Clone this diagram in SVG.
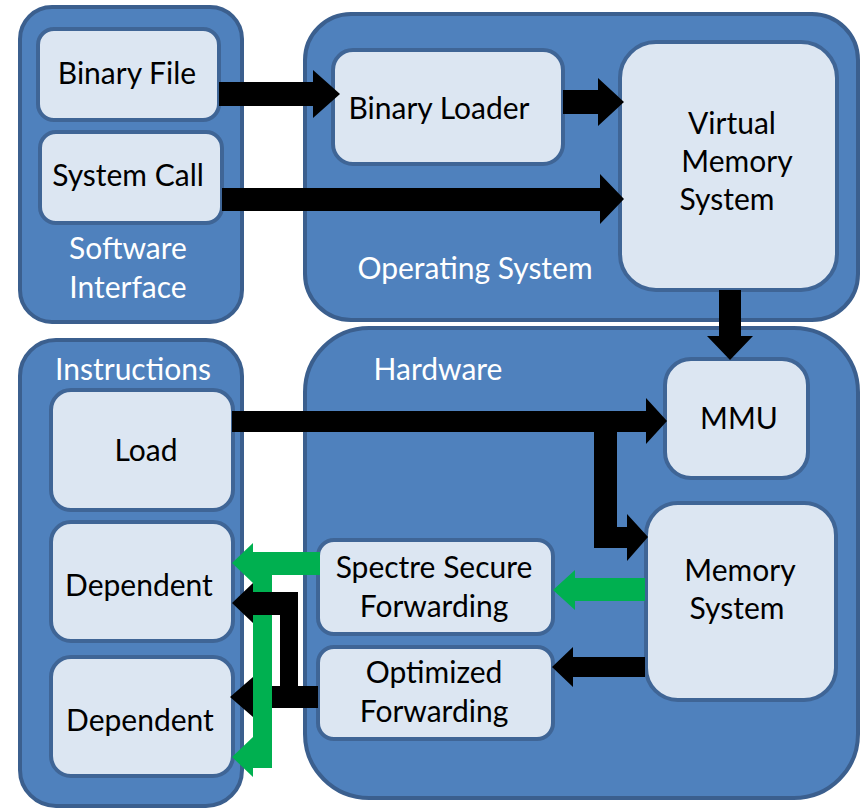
<svg xmlns="http://www.w3.org/2000/svg" width="864" height="809" viewBox="0 0 864 809">
<style>
.cont{fill:#4F81BD;stroke:#3B5F8E;stroke-width:4}
.box{fill:#DCE6F2;stroke:#3F6596;stroke-width:4}
text{font-family:Lato,"Liberation Sans",sans-serif;font-size:30px;text-anchor:middle}
.dk{fill:#000}
.wt{fill:#FFFFFF}
.blk{fill:#000}
.grn{fill:#00B050}
</style>
<rect width="864" height="809" fill="#FFFFFF"/>
<g id="software-interface">
<rect class="cont" x="20" y="7" width="222" height="315" rx="32"/>
<text class="wt" x="128" y="259">Software</text>
<text class="wt" x="128" y="298">Interface</text>
</g>
<g id="binary-file">
<rect class="box" x="38" y="29" width="181" height="91" rx="16"/>
<text class="dk" x="127" y="84">Binary File</text>
</g>
<g id="system-call">
<rect class="box" x="40" y="132" width="182" height="91" rx="16"/>
<text class="dk" x="128" y="186">System Call</text>
</g>
<g id="operating-system">
<rect class="cont" x="305" y="14" width="553" height="306" rx="46"/>
<text class="wt" x="475" y="279">Operating System</text>
</g>
<g id="binary-loader">
<rect class="box" x="333" y="50" width="230" height="114" rx="20"/>
<text class="dk" x="439" y="119">Binary Loader</text>
</g>
<g id="virtual-memory-system">
<rect class="box" x="620" y="42" width="217" height="248" rx="36"/>
<text class="dk" x="732" y="134">Virtual</text>
<text class="dk" x="737" y="172">Memory</text>
<text class="dk" x="727" y="210">System</text>
</g>
<g id="instructions">
<rect class="cont" x="20" y="340" width="222" height="466" rx="36"/>
<text class="wt" x="133" y="380">Instructions</text>
</g>
<g id="load">
<rect class="box" x="51" y="390" width="182" height="120" rx="20"/>
<text class="dk" x="146" y="461">Load</text>
</g>
<g id="dependent-1">
<rect class="box" x="51" y="522" width="182" height="119" rx="20"/>
<text class="dk" x="139" y="596">Dependent</text>
</g>
<g id="dependent-2">
<rect class="box" x="51" y="657" width="182" height="119" rx="20"/>
<text class="dk" x="140" y="731">Dependent</text>
</g>
<g id="hardware">
<rect class="cont" x="305" y="328" width="553" height="470" rx="64"/>
<text class="wt" x="438" y="380">Hardware</text>
</g>
<g id="mmu">
<rect class="box" x="665" y="359" width="143" height="119" rx="26"/>
<text class="dk" x="739" y="429">MMU</text>
</g>
<g id="memory-system">
<rect class="box" x="646" y="503" width="190" height="197" rx="32"/>
<text class="dk" x="740" y="581">Memory</text>
<text class="dk" x="737" y="619">System</text>
</g>
<g id="spectre-secure-forwarding">
<rect class="box" x="318" y="540" width="235" height="94" rx="16"/>
<text class="dk" x="434" y="578">Spectre Secure</text>
<text class="dk" x="434" y="617">Forwarding</text>
</g>
<g id="optimized-forwarding">
<rect class="box" x="318" y="647" width="235" height="92" rx="16"/>
<text class="dk" x="434" y="683">Optimized</text>
<text class="dk" x="434" y="722">Forwarding</text>
</g>
<g id="connectors">
<polygon class="blk" points="219,82 313,82 313,70 340,94 313,118 313,106 219,106"/>
<polygon class="blk" points="563,90 598,90 598,78 624,102 598,126 598,114 563,114"/>
<polygon class="blk" points="222,188 600,188 600,174 624,199 600,224 600,211 222,211"/>
<polygon class="blk" points="719,290 741,290 741,336 753,336 730,360 707,336 719,336"/>
<polygon class="blk" points="232,411 646,411 646,398 667,421 646,444 646,432 617,432 617,527 627,527 627,514 648,537 627,561 627,548 594,548 594,432 232,432"/>
<polygon class="grn" points="645,578 575,578 575,570 553,590 575,610 575,601 645,601"/>
<polygon class="blk" points="645,657 573,657 573,647 552,667 573,687 573,677 645,677"/>
<polygon class="blk" points="318,686 253,686 253,677 230,697 253,717 253,708 318,708"/>
<polygon class="grn" points="320,552 253,552 253,543 232,563 253,583 253,575 320,575"/>
<polygon class="grn" points="253,563 272,563 272,768 253,768 253,777 232,757 253,737"/>
<polygon class="blk" points="318,686 298,686 298,592 253,592 253,583 232,603 253,623 253,615 280,615 280,708 318,708"/>
</g>
</svg>
